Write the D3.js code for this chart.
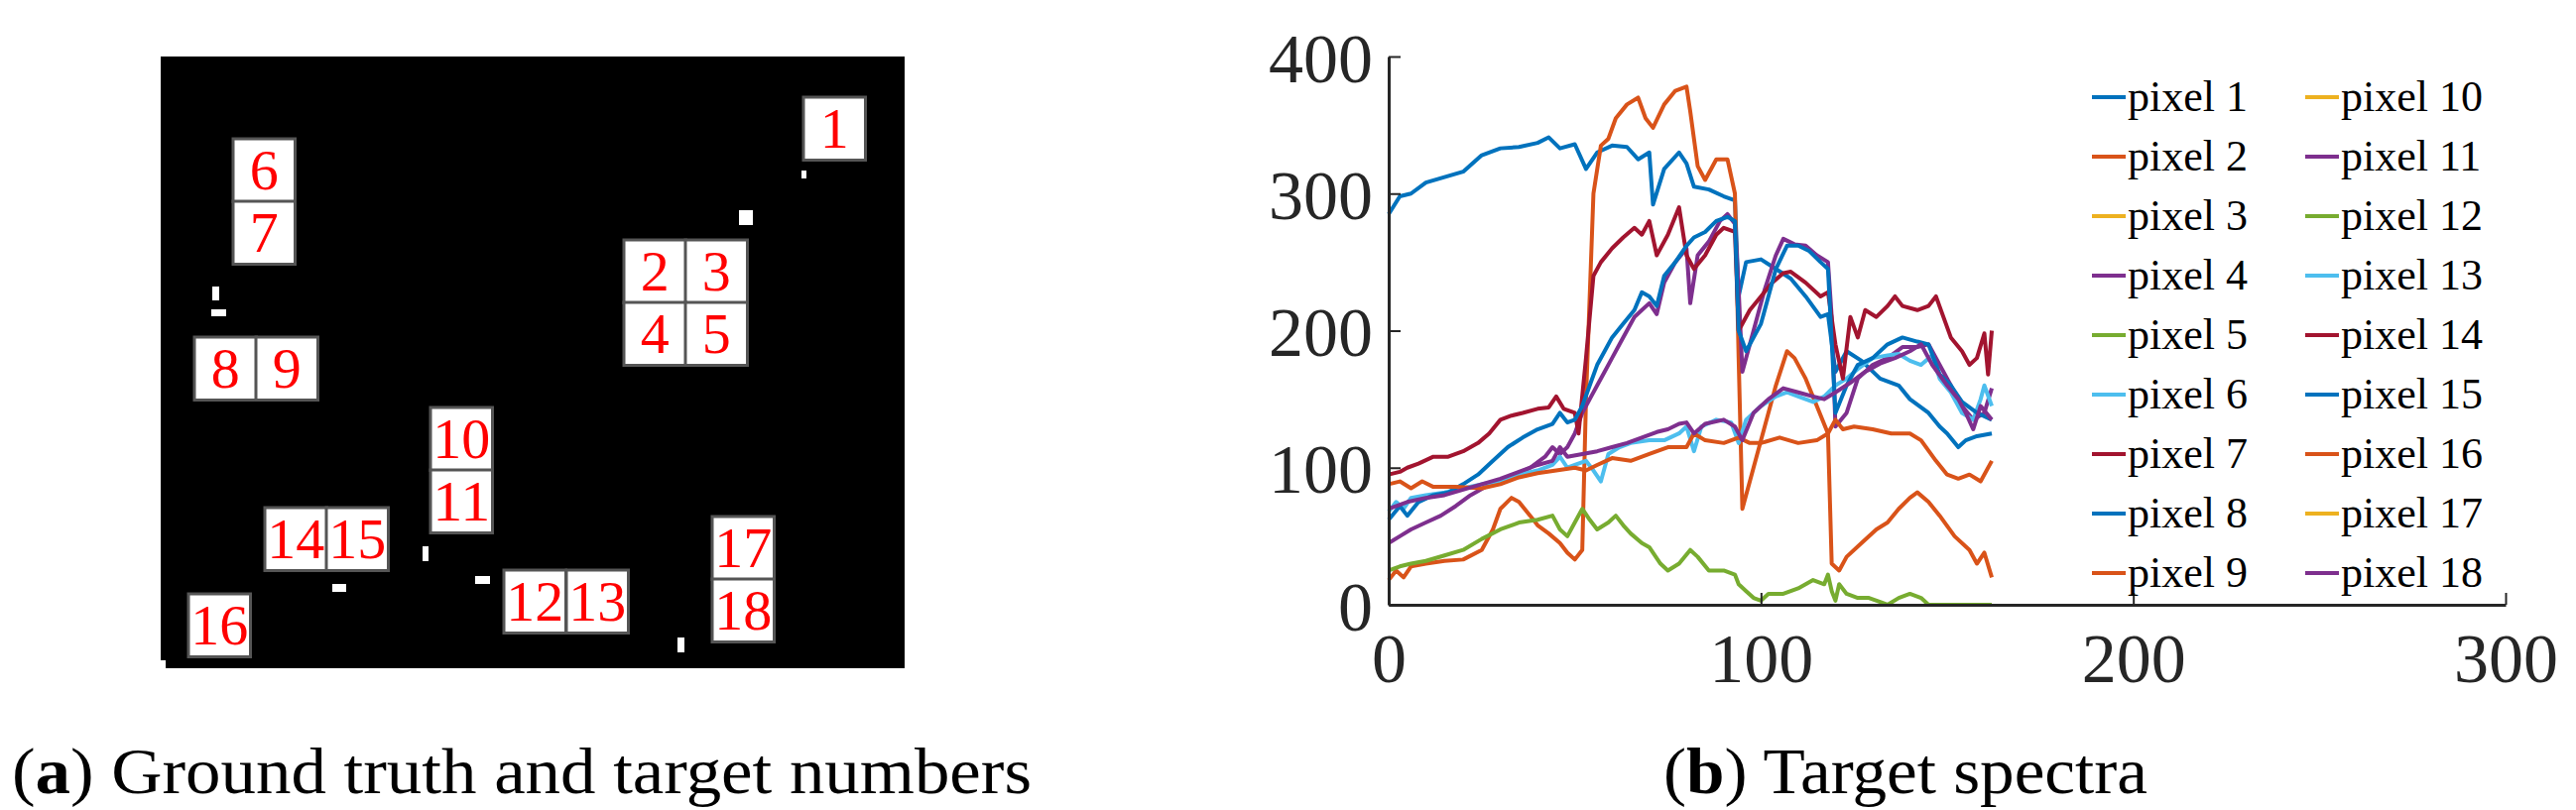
<!DOCTYPE html>
<html><head><meta charset="utf-8">
<script src="https://cdn.jsdelivr.net/npm/d3@7"></script>
<style>body{margin:0;background:#fff}svg{display:block}</style>
</head><body>
<script>
"use strict";

// left panel: target boxes (pixel grid coords) and white ground-truth marks
var boxes = [
  {n:"1", c:0, r:0}, {n:"6", c:1, r:1}, {n:"7", c:1, r:2},
  {n:"2", c:2, r:3}, {n:"3", c:3, r:3}, {n:"4", c:2, r:4}, {n:"5", c:3, r:4},
  {n:"8", c:4, r:5}, {n:"9", c:5, r:5},
  {n:"10", c:6, r:6}, {n:"11", c:6, r:7},
  {n:"14", c:7, r:8}, {n:"15", c:8, r:8},
  {n:"12", c:9, r:9}, {n:"13", c:10, r:9},
  {n:"17", c:11, r:10}, {n:"18", c:11, r:11},
  {n:"16", c:12, r:12}
];
var boxX = [810, 235, 629, 691, 196, 258, 434, 267, 329, 508, 571, 718, 190];
var boxY = [98, 140, 203, 242, 305, 340, 411, 474, 512, 575, 521, 584, 599];
var marks = [[808,172,5,8],[745,212,14,15],[214,289,7,14],[213,312,15,7],[426,551,6,15],
             [335,589,14,8],[479,581,15,8],[683,643,7,15],[162,666,5,8]];

// right panel: spectra, [band, value]
var p1 = [[0,285],[3,298],[6,300],[10,308],[15,312],[20,316],[25,328],[30,333],[35,334],[40,337],[43,341],[46,333],[50,336],[53,318],[56,330],[60,335],[64,334],[67,325],[70,330],[71,292],[74,318],[78,330],[80,322],[82,305],[86,303],[90,298],[93,295],[94,225],[96,250],[100,252],[104,245],[108,238],[112,225],[116,210],[118,212],[120,170],[123,185],[127,178],[132,165],[137,160],[140,150],[145,140],[148,130],[150,125],[153,115],[155,120],[158,123],[162,125]];
var p2 = [[0,18],[2,25],[4,20],[6,28],[10,30],[15,32],[20,33],[25,40],[28,55],[30,70],[33,78],[35,75],[38,65],[40,58],[43,52],[46,45],[48,38],[50,33],[52,40],[53,150],[55,300],[57,335],[59,340],[61,355],[64,365],[67,370],[69,355],[71,348],[74,365],[77,375],[80,378],[81,360],[83,320],[85,310],[88,325],[91,325],[93,300],[94,180],[95,70],[98,100],[101,130],[104,160],[107,185],[109,180],[112,165],[115,145],[118,125],[119,30],[121,25],[123,35],[127,45],[131,55],[134,60],[137,70],[140,78],[142,82],[145,75],[148,65],[152,50],[156,40],[158,30],[160,38],[162,20]];
var p4 = [[0,45],[3,50],[6,55],[10,60],[14,65],[18,72],[22,80],[26,86],[30,90],[34,95],[38,100],[42,108],[44,115],[46,110],[48,115],[50,125],[52,140],[54,150],[56,160],[58,170],[60,180],[62,190],[64,200],[66,210],[68,215],[70,220],[72,212],[74,235],[77,250],[80,260],[81,220],[83,255],[86,265],[89,280],[91,285],[93,278],[94,230],[95,170],[98,200],[101,230],[104,255],[106,267],[109,263],[112,262],[115,255],[118,250],[119,210],[120,130],[123,140],[126,165],[130,175],[134,180],[138,188],[142,188],[145,190],[148,175],[151,160],[154,145],[157,135],[160,140],[162,158]];
var p5 = [[0,25],[3,28],[6,30],[10,32],[15,36],[20,40],[25,48],[30,55],[35,60],[40,62],[44,65],[46,55],[48,50],[50,60],[52,70],[54,62],[56,55],[59,60],[61,65],[63,58],[65,52],[68,45],[70,42],[73,30],[75,25],[78,30],[81,40],[83,35],[86,25],[90,25],[93,22],[94,15],[96,10],[98,5],[100,3],[102,8],[106,8],[110,12],[114,18],[117,15],[118,22],[119,10],[120,3],[121,15],[123,8],[126,5],[129,5],[132,2],[134,0],[137,5],[140,8],[143,5],[145,0],[162,0]];
var p6 = [[0,68],[2,75],[4,70],[6,78],[10,80],[15,82],[20,85],[25,88],[30,90],[35,95],[40,98],[44,102],[46,108],[48,100],[50,102],[53,105],[55,98],[57,90],[59,110],[62,115],[65,118],[70,120],[74,120],[78,125],[80,130],[82,112],[84,130],[88,135],[92,133],[94,118],[96,135],[100,145],[104,152],[107,155],[110,152],[114,148],[117,152],[120,160],[123,165],[126,172],[130,180],[134,182],[137,183],[140,178],[143,175],[146,182],[148,165],[151,155],[154,140],[157,135],[159,150],[160,160],[162,145]];
var p7 = [[0,95],[3,97],[5,100],[8,103],[12,108],[16,108],[20,112],[24,118],[27,125],[30,135],[33,138],[36,140],[40,143],[43,144],[45,152],[47,143],[50,140],[51,125],[53,180],[55,240],[57,250],[60,260],[63,268],[66,275],[68,270],[70,280],[72,255],[75,270],[78,290],[80,255],[82,245],[85,255],[88,270],[90,275],[93,272],[94,200],[97,215],[100,225],[103,235],[106,242],[108,243],[112,235],[116,225],[118,228],[120,190],[122,165],[124,210],[126,195],[128,215],[131,210],[134,218],[136,225],[138,218],[142,215],[145,218],[147,225],[149,210],[151,195],[154,185],[156,175],[158,180],[160,198],[161,168],[162,200]];
var p8 = [[0,62],[3,72],[5,65],[8,75],[12,80],[16,82],[20,88],[24,95],[28,105],[32,115],[36,122],[40,128],[44,132],[46,140],[48,133],[50,135],[52,145],[54,160],[56,175],[58,185],[60,195],[63,205],[66,215],[68,228],[70,225],[72,218],[74,240],[77,250],[80,262],[82,268],[85,272],[88,280],[91,283],[93,280],[94,200],[96,185],[100,205],[104,245],[107,262],[110,262],[113,258],[116,250],[118,245],[120,140],[123,160],[126,175],[130,180],[134,190],[138,195],[142,192],[145,190],[148,168],[151,160],[154,148],[158,140],[162,135]];
var p9 = [[0,88],[3,90],[6,85],[9,90],[12,86],[18,86],[25,85],[30,88],[35,93],[40,96],[45,98],[50,100],[53,98],[56,102],[60,107],[65,105],[70,110],[75,115],[80,115],[82,125],[85,120],[90,118],[94,122],[97,118],[100,118],[105,122],[110,118],[115,120],[118,125],[120,135],[122,128],[125,130],[130,128],[135,125],[140,125],[143,120],[147,105],[150,95],[153,92],[156,95],[159,90],[162,105]];
var p11 = [[0,70],[5,75],[10,78],[15,80],[20,84],[25,88],[30,92],[35,97],[40,102],[44,105],[46,115],[48,108],[52,110],[56,112],[60,115],[64,118],[68,122],[72,126],[75,128],[78,132],[80,133],[82,125],[85,132],[90,135],[93,130],[95,120],[98,140],[102,150],[106,158],[110,155],[114,152],[117,150],[120,155],[124,162],[128,170],[132,176],[136,180],[140,185],[143,190],[146,175],[150,160],[153,150],[155,140],[157,128],[159,145],[162,135]];

var names = d3.range(1, 19).map(i => "pixel " + i);
var spectra = {1:p1, 2:p2, 4:p4, 5:p5, 6:p6, 7:p7, 8:p8, 9:p9, 11:p11};
var palette = ["#0072BD","#D95319","#EDB120","#7E2F8E","#77AC30","#4DBEEE","#A2142F"];
var xTicks = [0, 100, 200, 300];
var yTicks = [0, 100, 200, 300, 400];

var svg = d3.select("body").append("svg").attr("width", 2597).attr("height", 817);
var serif = "'Liberation Serif','DejaVu Serif',serif";

// ---- panel (a)
svg.append("rect").attr("x", 162).attr("y", 57).attr("width", 750).attr("height", 617).attr("fill", "#000");
svg.selectAll("rect.mark").data(marks).enter().append("rect")
  .attr("x", d => d[0]).attr("y", d => d[1]).attr("width", d => d[2]).attr("height", d => d[3]).attr("fill", "#fff");
var cell = 62.5;
var bg = svg.selectAll("g.box").data(boxes).enter().append("g")
  .attr("transform", d => "translate(" + boxX[d.c] + "," + boxY[d.r] + ")");
bg.append("rect").attr("width", cell).attr("height", cell + 1)
  .attr("fill", "#fff").attr("stroke", "#555").attr("stroke-width", 3);
bg.append("text").attr("x", cell / 2).attr("y", cell / 2 + 20).attr("text-anchor", "middle")
  .attr("font-family", serif).attr("font-size", 58).attr("fill", "#f00")
  .attr("textLength", d => d.n.length > 1 ? 58 : null).attr("lengthAdjust", "spacingAndGlyphs")
  .text(d => d.n);

svg.append("text").attr("x", 12).attr("y", 800).attr("font-family", serif).attr("font-size", 66)
  .attr("textLength", 1028).attr("lengthAdjust", "spacingAndGlyphs")
  .html("(<tspan font-weight='bold'>a</tspan>) Ground truth and target numbers");

// ---- panel (b)
var x = d3.scaleLinear().domain([0, 300]).range([1400, 2526]);
var y = d3.scaleLinear().domain([0, 400]).range([610, 57]);
var ax = "#262626";

var line = d3.line().x(d => x(d[0])).y(d => y(d[1]));
var order = [1, 2, 4, 5, 6, 7, 8, 9, 11];
svg.append("g").selectAll("path").data(order).enter().append("path")
  .attr("d", k => line(spectra[k])).attr("fill", "none")
  .attr("stroke", k => palette[(k - 1) % 7]).attr("stroke-width", 4).attr("stroke-linejoin", "round");

svg.append("g").attr("transform", "translate(0,610)")
  .call(d3.axisBottom(x).tickValues(xTicks).tickSize(-12).tickPadding(28).tickSizeOuter(0))
  .call(g => g.select(".domain").attr("stroke", ax).attr("stroke-width", 3))
  .call(g => g.selectAll("line").attr("stroke", ax).attr("stroke-width", 2))
  .call(g => g.selectAll("text").attr("font-family", serif).attr("font-size", 70).attr("fill", ax).attr("dy", "0.72em"));
svg.append("g").attr("transform", "translate(1400,0)")
  .call(d3.axisLeft(y).tickValues(yTicks).tickSize(-12).tickPadding(16).tickSizeOuter(0))
  .call(g => g.select(".domain").attr("stroke", ax).attr("stroke-width", 3))
  .call(g => g.selectAll("line").attr("stroke", ax).attr("stroke-width", 2))
  .call(g => g.selectAll("text").attr("font-family", serif).attr("font-size", 70).attr("fill", ax).attr("dy", "0.36em"));

// legend
var leg = svg.append("g").selectAll("g").data(names).enter().append("g")
  .attr("transform", (d, i) => "translate(" + (i < 9 ? 2109 : 2324) + "," + (98 + (i % 9) * 60) + ")");
leg.append("line").attr("x1", 0).attr("x2", 34).attr("stroke", (d, i) => palette[i % 7]).attr("stroke-width", 4);
leg.append("text").attr("x", 36).attr("y", 14).attr("font-family", serif).attr("font-size", 44)
  .attr("fill", "#000").text(d => d);

svg.append("text").attr("x", 1677).attr("y", 800).attr("font-family", serif).attr("font-size", 66)
  .attr("textLength", 488).attr("lengthAdjust", "spacingAndGlyphs")
  .html("(<tspan font-weight='bold'>b</tspan>) Target spectra");
</script>
</body></html>
